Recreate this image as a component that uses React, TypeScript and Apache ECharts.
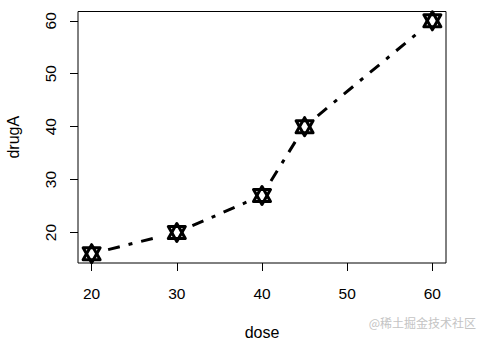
import React, { useEffect, useRef } from "react";
import * as echarts from "echarts";

const dose = [20, 30, 40, 45, 60];
const drugA = [16, 20, 27, 40, 60];
const xTicks = [20, 30, 40, 50, 60];
const yTicks = [20, 30, 40, 50, 60];

const FONT = "'Liberation Sans', Arial, sans-serif";

export default function App() {
  const ref = useRef<HTMLDivElement>(null);
  useEffect(() => {
    if (!ref.current) return;
    const chart = echarts.init(ref.current, undefined, { renderer: "svg" });
    const xPad = (Math.max(...dose) - Math.min(...dose)) * 0.04;
    const yPad = (Math.max(...drugA) - Math.min(...drugA)) * 0.04;
    const n = dose.length;
    const gap = 17;
    const r = 9;
    const yc = 6;
    const xc = 8.5;
    const option: any = {
      animation: false,
      backgroundColor: "#ffffff",
      textStyle: { fontFamily: FONT },
      grid: {
        left: 78,
        top: 11.5,
        right: 41,
        bottom: 77,
        show: true,
        borderColor: "#000",
        borderWidth: 1,
        backgroundColor: "transparent",
        containLabel: false,
        outerBoundsMode: "none",
      },
      xAxis: {
        type: "value",
        min: Math.min(...dose) - xPad,
        max: Math.max(...dose) + xPad,
        name: "dose",
        nameLocation: "middle",
        nameGap: 61,
        nameTextStyle: { color: "#000", fontSize: 16, fontFamily: FONT },
        axisLine: { show: false },
        splitLine: { show: false },
        axisTick: {
          show: true,
          length: 8,
          customValues: xTicks,
          lineStyle: { color: "#000", width: 1 },
        },
        axisLabel: {
          customValues: xTicks,
          color: "#000",
          fontSize: 15.5,
          fontFamily: FONT,
          margin: 22,
        },
      },
      yAxis: {
        type: "value",
        min: Math.min(...drugA) - yPad,
        max: Math.max(...drugA) + yPad,
        name: "drugA",
        nameLocation: "middle",
        nameGap: 57,
        nameTextStyle: { color: "#000", fontSize: 16, fontFamily: FONT },
        axisLine: { show: false },
        splitLine: { show: false },
        axisTick: {
          show: true,
          length: 8,
          customValues: yTicks,
          lineStyle: { color: "#000", width: 1 },
        },
        axisLabel: {
          customValues: yTicks,
          rotate: 90,
          color: "#000",
          fontSize: 15.5,
          fontFamily: FONT,
          margin: 20,
        },
      },
      graphic: [
        {
          type: "text",
          right: 11,
          top: 316,
          style: {
            text: "@稀土掘金技术社区",
            fill: "#c4c4c4",
            fontSize: 12,
            fontFamily: "'Noto Sans CJK SC', sans-serif",
          },
        },
      ],
      series: [
        {
          type: "custom",
          coordinateSystem: "cartesian2d",
          clip: false,
          data: dose.map((d, i) => [d, drugA[i]]),
          renderItem: (params: any, api: any) => {
            const i = params.dataIndex;
            const p = api.coord([dose[i], drugA[i]]);
            const children: any[] = [];
            const markerStyle = {
              fill: "none",
              stroke: "#000",
              lineWidth: 3,
              lineJoin: "round",
            };
            children.push({
              type: "polygon",
              shape: {
                points: [
                  [p[0], p[1] - r],
                  [p[0] + xc, p[1] + yc],
                  [p[0] - xc, p[1] + yc],
                ],
              },
              style: markerStyle,
            });
            children.push({
              type: "polygon",
              shape: {
                points: [
                  [p[0], p[1] + r],
                  [p[0] + xc, p[1] - yc],
                  [p[0] - xc, p[1] - yc],
                ],
              },
              style: markerStyle,
            });
            if (i < n - 1) {
              const q = api.coord([dose[i + 1], drugA[i + 1]]);
              const dx = q[0] - p[0];
              const dy = q[1] - p[1];
              const len = Math.sqrt(dx * dx + dy * dy);
              if (len > 2 * gap) {
                const ux = dx / len;
                const uy = dy / len;
                children.push({
                  type: "line",
                  shape: {
                    x1: p[0] + ux * gap,
                    y1: p[1] + uy * gap,
                    x2: q[0] - ux * gap,
                    y2: q[1] - uy * gap,
                  },
                  style: {
                    stroke: "#000",
                    lineWidth: 3,
                    lineDash: [12, 9, 4, 9],
                    lineCap: "butt",
                  },
                });
              }
            }
            return { type: "group", children };
          },
        },
      ],
    };
    chart.setOption(option);
    return () => chart.dispose();
  }, []);
  return (
    <div
      ref={ref}
      style={{ position: "fixed", left: 0, top: 0, width: 487, height: 340, background: "#fff" }}
    />
  );
}
